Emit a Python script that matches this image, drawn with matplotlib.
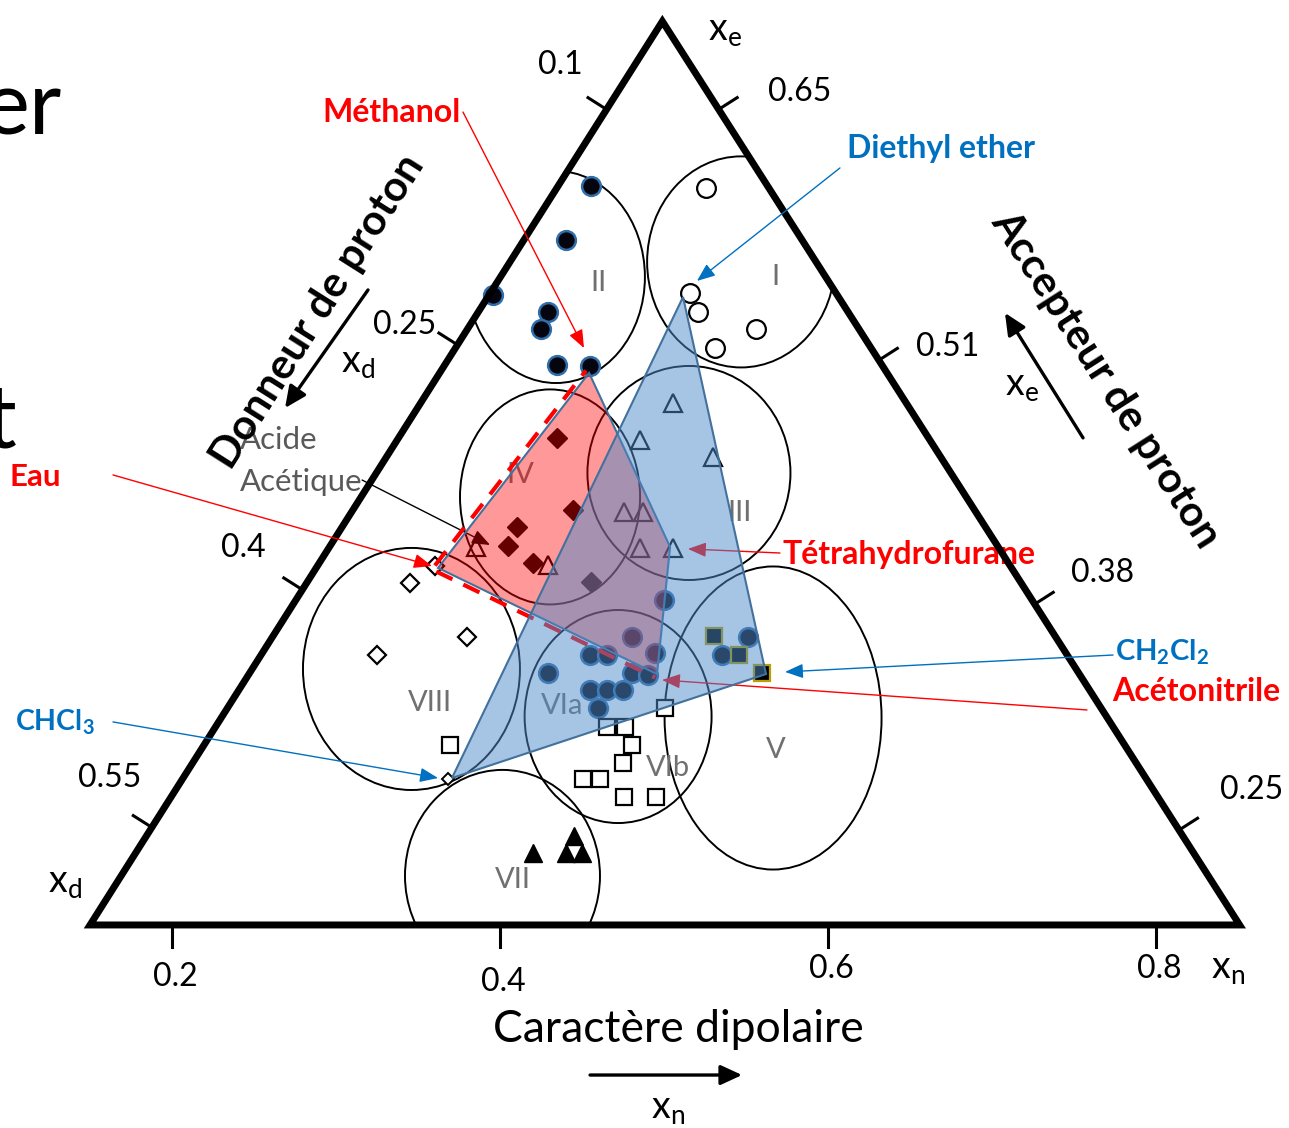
import numpy as np
import matplotlib
matplotlib.use("Agg")
import matplotlib.pyplot as plt
from matplotlib.patches import Polygon, Ellipse

plt.rcParams['font.family'] = ['Lato', 'DejaVu Sans']
plt.rcParams['mathtext.fontset'] = 'custom'
plt.rcParams['mathtext.rm'] = 'Lato'
plt.rcParams['mathtext.bf'] = 'Lato:bold'
plt.rcParams['mathtext.it'] = 'Lato:italic'

RED = '#FF0000'
BLUE = '#0070C0'
EDGE = '#41719C'
GREY = '#707070'

# frame: x follows the x_n scale, y is height in the same units
tri_x = [0.150, 0.851, 0.499]
tri_y = [0.0, 0.0, 0.551]

xn_ticks = [0.2, 0.4, 0.6, 0.8]
xn_labels = ['0.2', '0.4', '0.6', '0.8']
xn_label_y = [-0.032, -0.035, -0.027, -0.027]

# ticks along the sides (fraction from the top corner)
left_t = [0.0975, 0.358, 0.629, 0.892]
left_labels = ['0.1', '0.25', '0.4', '0.55']
left_lab_x = [0.4366, 0.3421, 0.2433, 0.1622]
left_lab_y = [0.5244, 0.3659, 0.2299, 0.0896]
right_t = [0.0975, 0.375, 0.645, 0.895]
right_labels = ['0.65', '0.51', '0.38', '0.25']
right_lab_x = [0.5829, 0.6732, 0.7677, 0.8585]
right_lab_y = [0.5079, 0.3524, 0.2146, 0.0823]

# solvent groups
g1_x = [0.5256, 0.5159, 0.5207, 0.5561, 0.5311]
g1_y = [0.4494, 0.3854, 0.3738, 0.3634, 0.3518]
g2_x = [0.4555, 0.4402, 0.3957, 0.4293, 0.4250, 0.4348, 0.4549]
g2_y = [0.4506, 0.4177, 0.3841, 0.3738, 0.3634, 0.3415, 0.3409]
g3_x = [0.5055, 0.4854, 0.5299, 0.4756, 0.4872, 0.4854, 0.5055, 0.4293, 0.3854]
g3_y = [0.3183, 0.2957, 0.2854, 0.2518, 0.2518, 0.2299, 0.2299, 0.2195, 0.2305]
g4_x = [0.4348, 0.4445, 0.4104, 0.4049, 0.4201, 0.4555]
g4_y = [0.2970, 0.2530, 0.2427, 0.2311, 0.2207, 0.2091]
g5_x = [0.5305, 0.5457, 0.5598]
g5_y = [0.1762, 0.1646, 0.1537]
g6a_x = [0.5000, 0.4805, 0.4549, 0.4652, 0.4945, 0.4293, 0.4805, 0.4902,
         0.4549, 0.4652, 0.4750, 0.4598, 0.5512, 0.5354]
g6a_y = [0.1982, 0.1756, 0.1646, 0.1646, 0.1658, 0.1537, 0.1537, 0.1524,
         0.1433, 0.1433, 0.1433, 0.1323, 0.1756, 0.1646]
g6b_x = [0.3695, 0.5006, 0.4652, 0.4762, 0.4805, 0.4750, 0.4506, 0.4610, 0.4756, 0.4951]
g6b_y = [0.1098, 0.1323, 0.1207, 0.1207, 0.1098, 0.0988, 0.0890, 0.0890, 0.0780, 0.0780]
g7_x = [0.4201, 0.4451, 0.4402, 0.4500]
g7_y = [0.0439, 0.0543, 0.0439, 0.0439]
g8_x = [0.3604, 0.3451, 0.3799, 0.3250]
g8_y = [0.2189, 0.2085, 0.1756, 0.1646]
chcl3_pt = (0.3683, 0.0890)

# group circles
circ_names = ['I', 'II', 'III', 'IV', 'V', 'VI', 'VII', 'VIII']
circ_cx = [0.5470, 0.4341, 0.5152, 0.4305, 0.5665, 0.4720, 0.4015, 0.3460]
circ_cy = [0.4043, 0.3951, 0.2756, 0.2610, 0.1262, 0.1271, 0.0299, 0.1561]
circ_w = [0.1146, 0.1085, 0.1238, 0.1098, 0.1323, 0.1140, 0.1189, 0.1323]
circ_h = [0.1287, 0.1293, 0.1305, 0.1311, 0.1848, 0.1299, 0.1293, 0.1476]

lab_text = ['II', 'I', 'IV', 'III', 'VIII', 'VIa', 'VIb', 'V', 'VII']
lab_x = [0.4598, 0.5677, 0.4122, 0.5463, 0.3573, 0.4378, 0.5024, 0.5683, 0.4079]
lab_y = [0.3915, 0.3951, 0.2744, 0.2512, 0.1354, 0.1335, 0.0957, 0.1067, 0.0274]

# eau, methanol, THF, acetonitrile
red_x = [0.3622, 0.4543, 0.5037, 0.4957]
red_y = [0.2177, 0.3366, 0.2305, 0.1530]
# diethyl ether, CH2Cl2, CHCl3
blue_x = [0.5116, 0.5622, 0.3707]
blue_y = [0.3829, 0.1530, 0.0896]

fig = plt.figure(figsize=(12.89, 11.28), dpi=100)
ax = fig.add_axes([0, 0, 1, 1])
ax.set_xlim(0.0951, 0.8811)
ax.set_ylim(-0.1238, 0.5640)
ax.axis('off')

tri = Polygon(np.column_stack([tri_x, tri_y]), closed=True, fill=False,
              ec='black', lw=5, joinstyle='miter', zorder=8)
ax.add_patch(tri)

for cx, cy, w, h in zip(circ_cx, circ_cy, circ_w, circ_h):
    e = Ellipse((cx, cy), w, h, fill=False, ec='black', lw=1.4, zorder=2)
    ax.add_patch(e)
    e.set_clip_path(tri)

# markers (all sit under the translucent solvent shapes)
ms = 13.5
ax.plot(g1_x, g1_y, 'o', ms=ms, mfc='white', mec='black', mew=1.6, zorder=3)
ax.plot(g2_x, g2_y, 'o', ms=ms, mfc='#05050f', mec='#2f6ea8', mew=1.8, zorder=3)
ax.plot(g3_x, g3_y, '^', ms=ms, mfc='none', mec='black', mew=1.6, zorder=3)
ax.plot(g4_x, g4_y, 'D', ms=10, mfc='black', mec='black', mew=1, zorder=3)
ax.plot(g6a_x, g6a_y, 'o', ms=ms, mfc='#05050f', mec='#2f6ea8', mew=1.8, zorder=3)
ax.plot(g5_x, g5_y, 's', ms=12, mfc='black', mec='#B8A000', mew=1.6, zorder=3)
ax.plot(g6b_x, g6b_y, 's', ms=12, mfc='white', mec='black', mew=1.6, zorder=3)
ax.plot(g7_x, g7_y, '^', ms=ms, mfc='black', mec='black', mew=1, zorder=3)
ax.plot(g8_x, g8_y, 'D', ms=9, mfc='white', mec='black', mew=1.6, zorder=3)
ax.plot([chcl3_pt[0]], [chcl3_pt[1]], 'D', ms=6.5, mfc='white', mec='black', mew=1.4, zorder=3)

for t, x, y in zip(lab_text, lab_x, lab_y):
    ax.text(x, y, t, fontsize=21, color=GREY, ha='center', va='center', zorder=3)

# Acide acetique pointer
ax.text(0.2415, 0.2957, 'Acide', fontsize=22.5, color='#595959', ha='left', va='center', zorder=3)
ax.text(0.2415, 0.2701, 'Acétique', fontsize=22.5, color='#595959', ha='left', va='center', zorder=3)
ax.annotate('', xy=(0.3939, 0.2317), xytext=(0.3159, 0.2713),
            arrowprops=dict(arrowstyle='-|>,head_length=0.55,head_width=0.22',
                            mutation_scale=20, color='black', lw=1,
                            shrinkA=0, shrinkB=0), zorder=3)

# red solvent shape
rv = np.column_stack([red_x, red_y])
ax.add_patch(Polygon(rv, closed=True, fc=RED, alpha=0.4, ec='none', zorder=4))
ax.add_patch(Polygon(rv, closed=True, fill=False, ec=EDGE, lw=1.5, zorder=5))
for a, b, sign in [(rv[0], rv[1], 1), (rv[0], rv[3], -1)]:
    d = b - a
    n = sign * np.array([-d[1], d[0]]) / np.hypot(*d)
    p = np.array([a, b]) + n * 0.0024
    ax.plot(p[:, 0], p[:, 1], color=RED, lw=3, ls=(0, (4.3, 2.9)), zorder=5)

arrow_thin = dict(arrowstyle='-|>,head_length=0.55,head_width=0.22',
                  mutation_scale=20, lw=1, shrinkA=0, shrinkB=0)

# THF and acetonitrile pointers go under the blue shape
ax.annotate('', xy=(0.5146, 0.2293), xytext=(0.5707, 0.2268),
            arrowprops=dict(color=RED, **arrow_thin), zorder=5)
ax.annotate('', xy=(0.4988, 0.1494), xytext=(0.7579, 0.1311),
            arrowprops=dict(color=RED, **arrow_thin), zorder=5)

bv = np.column_stack([blue_x, blue_y])
ax.add_patch(Polygon(bv, closed=True, fc='#4F8AC9', alpha=0.5, ec='none', zorder=6))
ax.add_patch(Polygon(bv, closed=True, fill=False, ec=EDGE, lw=1.5, zorder=7))

ax.annotate('', xy=(0.4512, 0.3518), xytext=(0.3774, 0.4957),
            arrowprops=dict(color=RED, **arrow_thin), zorder=9)
ax.annotate('', xy=(0.5201, 0.3927), xytext=(0.6073, 0.4616),
            arrowprops=dict(color=BLUE, **arrow_thin), zorder=9)
ax.annotate('', xy=(0.3585, 0.2189), xytext=(0.1640, 0.2744),
            arrowprops=dict(color=RED, **arrow_thin), zorder=9)
ax.annotate('', xy=(0.5738, 0.1543), xytext=(0.7738, 0.1646),
            arrowprops=dict(color=BLUE, **arrow_thin), zorder=9)
ax.annotate('', xy=(0.3622, 0.0896), xytext=(0.1640, 0.1238),
            arrowprops=dict(color=BLUE, **arrow_thin), zorder=9)

sol = dict(fontweight='bold', va='center', zorder=7)
ax.text(0.3341, 0.4951, 'Méthanol', fontsize=23, color=RED, ha='center', **sol)
ax.text(0.6689, 0.4732, 'Diethyl ether', fontsize=23, color=BLUE, ha='center', **sol)
ax.text(0.1165, 0.2732, 'Eau', fontsize=22.5, color=RED, ha='center', **sol)
ax.text(0.5720, 0.2256, 'Tétrahydrofurane', fontsize=23, color=RED, ha='left', **sol)
ax.text(0.7750, 0.1665, r'CH$_\mathbf{2}$Cl$_\mathbf{2}$', fontsize=21, color=BLUE,
        ha='left', **sol)
ax.text(0.7732, 0.1421, 'Acétonitrile', fontsize=23, color=RED, ha='left', **sol)
ax.text(0.1043, 0.1238, r'CHCl$_\mathbf{3}$', fontsize=20.5, color=BLUE, ha='left', **sol)

# scales
for v, lab, ly in zip(xn_ticks, xn_labels, xn_label_y):
    ax.plot([v, v], [0, -0.0134], color='black', lw=2.2, zorder=8)
    ax.text(v + 0.002, ly, lab, fontsize=23, ha='center', va='center')

top = np.array([tri_x[2], tri_y[2]])
bl = np.array([tri_x[0], tri_y[0]])
br = np.array([tri_x[1], tri_y[1]])
dl = bl - top
nl = np.array([dl[1], -dl[0]]) / np.hypot(*dl)
dr = br - top
nr = np.array([-dr[1], dr[0]]) / np.hypot(*dr)
for t in left_t:
    p = top + t * dl
    q = p + nl * 0.0134
    ax.plot([p[0], q[0]], [p[1], q[1]], color='black', lw=2.2, zorder=8)
for t in right_t:
    p = top + t * dr
    q = p + nr * 0.0134
    ax.plot([p[0], q[0]], [p[1], q[1]], color='black', lw=2.2, zorder=8)
for lab, x, y in zip(left_labels, left_lab_x, left_lab_y):
    ax.text(x, y, lab, fontsize=23, ha='center', va='center')
for lab, x, y in zip(right_labels, right_lab_x, right_lab_y):
    ax.text(x, y, lab, fontsize=23, ha='center', va='center')

# axis names and arrows
ang_l = np.degrees(np.arctan2(-dl[1], -dl[0]))
ang_r = np.degrees(np.arctan2(dr[1], dr[0]))
ax.text(0.2890, 0.3738, 'Donneur de proton', fontsize=30.5, fontweight='bold',
        rotation=ang_l, rotation_mode='anchor', ha='center', va='center', zorder=6)
ax.text(0.7689, 0.3323, 'Accepteur de proton', fontsize=30.5, fontweight='bold',
        rotation=ang_r, rotation_mode='anchor', ha='center', va='center')
ax.text(0.5085, -0.0640, 'Caractère dipolaire', fontsize=32, ha='center', va='center')

arrow_thick = dict(arrowstyle='-|>,head_length=0.65,head_width=0.3',
                   mutation_scale=20, lw=2.4, color='black', shrinkA=0, shrinkB=0)
ax.annotate('', xy=(0.2689, 0.3152), xytext=(0.3195, 0.3872), arrowprops=arrow_thick)
ax.annotate('', xy=(0.7079, 0.3732), xytext=(0.7555, 0.2970), arrowprops=arrow_thick)
ax.annotate('', xy=(0.5476, -0.0915), xytext=(0.4549, -0.0915), arrowprops=arrow_thick)

xs = dict(fontsize=27, ha='center', va='center')
ax.text(0.5372, 0.5457, r'x$_\mathrm{e}$', **xs)
ax.text(0.1348, 0.0262, r'x$_\mathrm{d}$', **xs)
ax.text(0.3134, 0.3433, r'x$_\mathrm{d}$', **xs)
ax.text(0.7183, 0.3293, r'x$_\mathrm{e}$', **xs)
ax.text(0.8439, -0.0262, r'x$_\mathrm{n}$', **xs)
ax.text(0.5024, -0.1116, r'x$_\mathrm{n}$', **xs)

# slide title fragments cut at the left border
ax.text(0.1329, 0.4817, 'er', fontsize=64, ha='right', va='baseline')
ax.text(0.1049, 0.2909, 't', fontsize=64, ha='right', va='baseline')

fig.savefig('out.png', dpi=100)
